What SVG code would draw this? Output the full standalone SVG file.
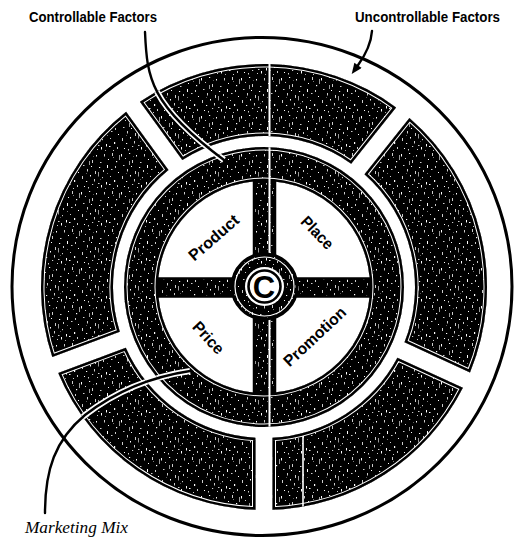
<svg xmlns="http://www.w3.org/2000/svg" xmlns:xlink="http://www.w3.org/1999/xlink" width="514" height="538" viewBox="0 0 514 538">
<style>
.tex{fill:url(#tex);}
.edgeW{fill:none;stroke:#fff;stroke-width:7;}
.edgeB{fill:none;stroke:#000;stroke-width:5;}
.q{font-family:"Liberation Sans",Arial,sans-serif;font-weight:bold;font-size:16px;fill:#000;text-anchor:middle;}
.lbl{font-family:"Liberation Sans",Arial,sans-serif;font-weight:bold;font-size:14px;fill:#000;}
.mm{font-family:"Liberation Serif","Times New Roman",serif;font-style:italic;font-size:16px;fill:#000;}
.lead{fill:none;stroke:#000;stroke-width:2.4;stroke-linecap:round;}
.case{fill:none;stroke:#fff;stroke-width:6;}
</style>
<defs>
<pattern id="tex" patternUnits="userSpaceOnUse" width="40" height="38">
<rect width="40" height="38" fill="#000"/>
<g fill="#fff">
<rect x="1" y="2" width="1" height="2.5"/><rect x="5" y="6" width="0.8" height="1"/><rect x="9" y="1" width="1.2" height="1"/><rect x="12" y="8" width="0.8" height="3"/><rect x="16" y="3" width="1" height="1.5"/><rect x="20" y="10" width="1.5" height="0.8"/><rect x="24" y="2" width="0.8" height="2.5"/><rect x="28" y="7" width="1" height="1"/><rect x="32" y="1" width="0.8" height="3"/><rect x="36" y="9" width="1.2" height="1.2"/>
<rect x="3" y="13" width="1.5" height="0.8"/><rect x="7" y="17" width="0.8" height="2.5"/><rect x="11" y="14" width="1" height="1"/><rect x="15" y="19" width="0.8" height="3"/><rect x="19" y="15" width="1.2" height="1"/><rect x="23" y="18" width="0.8" height="2"/><rect x="27" y="13" width="1" height="3"/><rect x="31" y="17" width="1.5" height="0.8"/><rect x="35" y="14" width="0.8" height="2"/><rect x="38" y="20" width="1" height="1"/>
<rect x="2" y="24" width="0.8" height="3"/><rect x="6" y="29" width="1.2" height="1"/><rect x="10" y="23" width="1" height="1.5"/><rect x="14" y="27" width="0.8" height="2.5"/><rect x="18" y="31" width="1.5" height="0.8"/><rect x="22" y="25" width="0.8" height="1.2"/><rect x="26" y="30" width="1" height="2.5"/><rect x="30" y="24" width="0.8" height="1"/><rect x="34" y="28" width="1.2" height="2"/><rect x="37" y="33" width="0.8" height="2"/>
<rect x="4" y="34" width="1" height="1"/><rect x="8" y="35" width="0.8" height="1.5"/><rect x="12" y="32" width="1.2" height="0.8"/><rect x="17" y="35" width="0.8" height="1"/><rect x="21" y="33" width="1" height="2.5"/><rect x="25" y="36" width="0.8" height="0.8"/><rect x="29" y="32" width="1.5" height="1"/><rect x="33" y="36" width="0.8" height="1"/>
<rect x="13" y="4" width="0.6" height="0.6"/><rect x="27" y="21" width="0.7" height="0.7"/><rect x="6" y="21" width="0.6" height="0.6"/><rect x="33" y="5" width="0.7" height="0.7"/><rect x="20" y="27" width="0.6" height="0.6"/>
<rect x="39" y="3" width="0.6" height="5"/><rect x="18" y="20" width="0.6" height="4.5"/><rect x="9" y="9" width="0.6" height="4"/>
</g>
</pattern>
<path id="s1" d="M462.9,387.8 A223,223 0 0 1 272.5,509.8 L272.5,437.8 A151,151 0 0 0 397.4,357.7 Z"/>
<path id="s2" d="M255.5,509.8 A223,223 0 0 1 58.2,373.0 L125.8,347.8 A151,151 0 0 0 255.5,437.8 Z"/>
<path id="s3" d="M52.3,357.1 A223,223 0 0 1 126.1,111.7 L168.5,170.0 A151,151 0 0 0 119.8,331.8 Z"/>
<path id="s4" d="M139.9,101.7 A223,223 0 0 1 396.1,107.4 L351.2,163.7 A151,151 0 0 0 182.3,160.0 Z"/>
<path id="s5" d="M409.4,117.9 A223,223 0 0 1 470.0,372.4 L404.5,342.3 A151,151 0 0 0 364.5,174.3 Z"/>
<path id="ring" fill-rule="evenodd" d="M264,147 A140,140 0 1 1 264,427 A140,140 0 1 1 264,147 Z M264,181 A106,106 0 1 0 264,393 A106,106 0 1 0 264,181 Z"/>
<clipPath id="bandclip">
<use xlink:href="#s1"/><use xlink:href="#s2"/><use xlink:href="#s3"/><use xlink:href="#s4"/><use xlink:href="#s5"/><use xlink:href="#ring" clip-rule="evenodd"/>
</clipPath>
<clipPath id="streakclip">
<use xlink:href="#s1"/><use xlink:href="#s4"/><use xlink:href="#ring" clip-rule="evenodd"/>
<rect x="254" y="181" width="21" height="212"/>
</clipPath>
<marker id="arrow" viewBox="0 0 12 10" refX="1" refY="5" markerWidth="12" markerHeight="9" markerUnits="userSpaceOnUse" orient="auto">
<path d="M0,0 L12,5 L0,10 Z" fill="#000"/>
</marker>
</defs>
<rect width="514" height="538" fill="#fff"/>

<g id="outer-circle">
<ellipse cx="262" cy="286.5" rx="250" ry="249" fill="none" stroke="#000" stroke-width="3"/>
</g>

<g id="uncontrollable-segments">
<g id="seg-lower-right"><use xlink:href="#s1" class="tex"/></g>
<g id="seg-lower-left"><use xlink:href="#s2" class="tex"/></g>
<g id="seg-left"><use xlink:href="#s3" class="tex"/></g>
<g id="seg-top"><use xlink:href="#s4" class="tex"/></g>
<g id="seg-right"><use xlink:href="#s5" class="tex"/></g>
</g>

<g id="controllable-ring">
<use xlink:href="#ring" class="tex"/>
</g>

<g id="band-edges" clip-path="url(#bandclip)">
<use xlink:href="#s1" class="edgeW"/><use xlink:href="#s2" class="edgeW"/><use xlink:href="#s3" class="edgeW"/><use xlink:href="#s4" class="edgeW"/><use xlink:href="#s5" class="edgeW"/>
<circle cx="264" cy="287" r="140" class="edgeW"/><circle cx="264" cy="287" r="106" class="edgeW"/>
<use xlink:href="#s1" class="edgeB"/><use xlink:href="#s2" class="edgeB"/><use xlink:href="#s3" class="edgeB"/><use xlink:href="#s4" class="edgeB"/><use xlink:href="#s5" class="edgeB"/>
<circle cx="264" cy="287" r="140" class="edgeB"/><circle cx="264" cy="287" r="106" class="edgeB"/>
</g>

<g id="spokes">
<rect x="158" y="278.5" width="212" height="18" class="tex" stroke="#000" stroke-width="2.5"/>
<rect x="254" y="182" width="21" height="210" class="tex" stroke="#000" stroke-width="2.5"/>
</g>

<g id="streaks" clip-path="url(#streakclip)">
<line x1="269.5" y1="60" x2="269.5" y2="440" stroke="#fff" stroke-width="2"/>
<line x1="303" y1="436" x2="303" y2="512" stroke="#fff" stroke-width="1.6"/>
</g>

<g id="hub">
<circle cx="264.5" cy="286.5" r="32.5" class="tex" stroke="#000" stroke-width="3"/>
<circle cx="264.5" cy="286.5" r="29.5" fill="none" stroke="#fff" stroke-width="1.2"/>
<circle cx="264.5" cy="286.5" r="19.5" fill="#fff"/>
<circle cx="264.5" cy="286.5" r="16" fill="#fff" stroke="#000" stroke-width="2.6"/>
<text x="264" y="298" font-family="Liberation Sans, Arial, sans-serif" font-weight="bold" font-size="31" text-anchor="middle" fill="#000">C</text>
</g>

<g id="quadrant-labels">
<text class="q" transform="translate(214,238) rotate(-41)" y="5" textLength="61" lengthAdjust="spacingAndGlyphs">Product</text>
<text class="q" transform="translate(317,233) rotate(46)" y="5" textLength="39" lengthAdjust="spacingAndGlyphs">Place</text>
<text class="q" transform="translate(208,338) rotate(47)" y="5" textLength="38" lengthAdjust="spacingAndGlyphs">Price</text>
<text class="q" transform="translate(315,337) rotate(-43)" y="5" textLength="79" lengthAdjust="spacingAndGlyphs">Promotion</text>
</g>

<g id="connectors">
<g clip-path="url(#bandclip)">
<path class="case" d="M145,32 C147,78 150,105 224,160"/>
<path class="case" d="M45,513 C45,470 55,440 85,415 C115,392 150,377 190,371"/>
</g>
<path class="lead" d="M145,32 C147,78 150,105 224,160"/>
<path class="lead" d="M372,31 C371,45 364,57 357.5,66" marker-end="url(#arrow)"/>
<path class="lead" d="M45,513 C45,470 55,440 85,415 C115,392 150,377 190,371"/>
</g>

<g id="labels">
<text class="lbl" x="29" y="22" textLength="128" lengthAdjust="spacingAndGlyphs">Controllable Factors</text>
<text class="lbl" x="355" y="22" textLength="145" lengthAdjust="spacingAndGlyphs">Uncontrollable Factors</text>
<text class="mm" x="25" y="533" textLength="103" lengthAdjust="spacingAndGlyphs">Marketing Mix</text>
</g>
</svg>
